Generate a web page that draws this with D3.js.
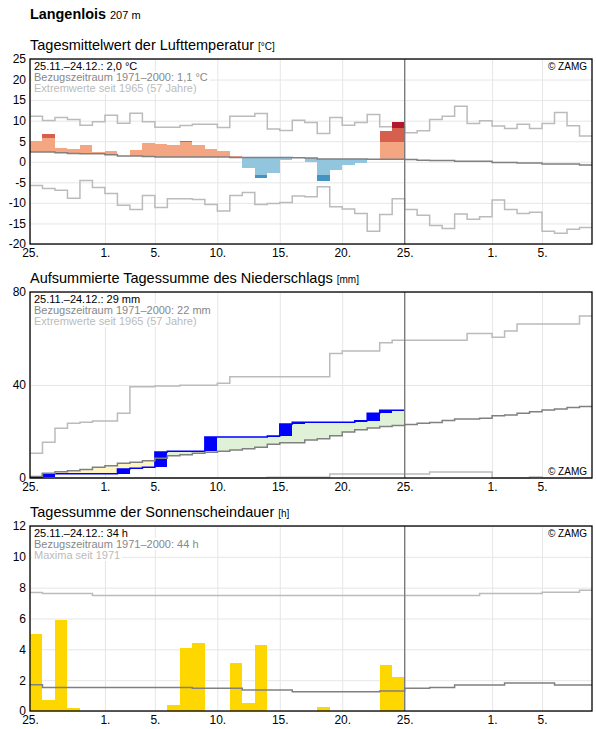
<!DOCTYPE html>
<html>
<head>
<meta charset="utf-8">
<script src="https://cdn.jsdelivr.net/npm/d3@7"></script>
<style>
body { margin: 0; background: #fff; }
svg text { font-family: "Liberation Sans", Arial, sans-serif; }
</style>
</head>
<body>
<script>
// x axis: day 0 = 25.11., 45 days shown
var xTickDays = [0, 6, 10, 15, 20, 25, 30, 37, 41];
var xTickLabels = ["25.", "1.", "5.", "10.", "15.", "20.", "25.", "1.", "5."];
var todayIndex = 30;

// Lufttemperatur
var tempTicks = [25, 20, 15, 10, 5, 0, -5, -10, -15, -20];
var tempObs = [5.1, 6.8, 3.4, 3.1, 4.05, 2.35, 2.6, 1.4, 2.85, 4.5,
               4.25, 4.05, 5.05, 4.05, 3.1, 2.6, 1.4, -1.55, -3.9, -2.7,
               0.4, 1.0, 0.0, -4.7, -2.0, -0.8, -0.25, 0.6, 7.45, 9.65];
var tempNorm = [2.4, 2.35, 2.2, 2.0, 1.95, 1.95, 1.7, 1.4, 1.4, 1.3,
                1.15, 1.15, 1.15, 1.15, 1.15, 1.15, 1.05, 1.05, 1.05, 1.05,
                1.05, 1.0, 0.9, 0.7, 0.7, 0.7, 0.7, 0.6, 0.6, 0.6,
                0.55, 0.4, 0.3, 0.3, 0.1, 0.1, 0.1, -0.15, -0.15, -0.3,
                -0.3, -0.55, -0.55, -0.55, -0.8];
var tempMax = [11.1, 10.05, 10.8, 10.3, 8.9, 9.75, 11.3, 9.35, 11.8, 9.75,
               8.4, 8.4, 8.8, 9.1, 9.1, 8.35, 11.1, 11.1, 11.75, 7.95,
               7.6, 10.1, 9.55, 6.9, 10.8, 8.9, 9.55, 11.5, 8.5, 8.5,
               7.05, 7.55, 10.3, 11.1, 13.5, 9.3, 10.0, 8.7, 8.1, 9.1,
               8.1, 9.3, 12.0, 8.75, 6.25];
var tempMin = [-5.75, -6.5, -6.9, -8.9, -4.55, -6.25, -7.7, -10.6, -11.6, -8.2,
               -11.1, -9.0, -9.0, -9.15, -10.4, -12.0, -8.2, -7.45, -10.4, -10.15,
               -9.9, -8.3, -8.5, -6.1, -10.95, -11.5, -12.6, -16.9, -12.8, -9.0,
               -11.6, -13.0, -15.5, -16.2, -12.7, -14.0, -13.4, -9.3, -11.6, -12.6,
               -12.3, -16.9, -17.4, -16.4, -16.0];
// stronger anomaly parts: [day, from, to, level]
var tempStrong = [[1, 5.8, 6.8, 1], [12, 4.8, 5.05, 1], [18, -3.25, -3.9, -1],
                  [23, -3.3, -4.7, -1], [28, 4.8, 7.45, 1], [29, 4.8, 8.2, 1], [29, 8.2, 9.65, 2]];
var tempInfo = ["25.11.–24.12.: 2,0 °C", "Bezugszeitraum 1971–2000: 1,1 °C", "Extremwerte seit 1965 (57 Jahre)"];

// Niederschlag (kumuliert)
var precTicks = [0, 40, 80];
var precObs = [0.4, 1.8, 1.8, 1.8, 1.8, 1.8, 1.8, 3.9, 4.2, 4.6,
               11.2, 11.5, 11.5, 11.5, 17.6, 17.6, 17.6, 17.6, 17.6, 18.05,
               23.2, 23.95, 23.95, 23.95, 23.95, 23.95, 24.65, 27.8, 29.1, 29.1];
var precNorm = [0.6, 2.0, 2.7, 3.1, 3.7, 4.6, 5.3, 6.3, 6.75, 7.45,
                8.5, 9.6, 10.0, 10.6, 11.05, 11.5, 12.0, 12.6, 13.2, 14.5,
                15.2, 15.2, 16.3, 16.9, 18.2, 19.8, 20.8, 21.5, 22.1, 22.6,
                23.0, 23.5, 23.9, 24.7, 25.4, 25.4, 25.7, 26.8, 27.1, 27.8,
                28.5, 29.2, 29.7, 30.3, 30.7];
var precMax = [10.6, 15.35, 21.4, 23.5, 23.95, 24.5, 24.5, 27.9, 39.3, 39.3,
               39.6, 39.6, 39.9, 39.9, 39.9, 40.7, 43.6, 43.6, 43.6, 43.6,
               43.6, 43.6, 43.6, 43.6, 53.6, 54.6, 54.6, 54.6, 58.2, 59.2,
               59.2, 59.2, 59.2, 59.2, 59.2, 62.2, 62.2, 60.5, 63.2, 66.2,
               66.2, 66.2, 66.2, 66.2, 69.7];
var precMin = [0, 0, 0, 0, 0, 0, 0, 0, 0, 0,
               0, 0, 0, 0, 0, 0, 0, 0, 0, 0.3,
               0.3, 0.3, 0.3, 0.3, 1.7, 1.7, 1.7, 1.7, 1.7, 1.7,
               1.7, 1.7, 2.6, 2.6, 2.6, 2.6, 2.6, 0, 0, 0,
               0.4, 0, 0, 0, 0];
var precInfo = ["25.11.–24.12.: 29 mm", "Bezugszeitraum 1971–2000: 22 mm", "Extremwerte seit 1965 (57 Jahre)"];

// Sonnenscheindauer
var sunTicks = [0, 2, 4, 6, 8, 10, 12];
var sunObs = [5.0, 0.7, 5.9, 0.2, 0, 0, 0, 0, 0, 0,
              0, 0.4, 4.1, 4.4, 0, 0, 3.1, 0.5, 4.25, 0,
              0, 0, 0, 0.25, 0, 0, 0, 0, 3.0, 2.2];
var sunNorm = [1.7, 1.53, 1.53, 1.53, 1.53, 1.53, 1.53, 1.53, 1.53, 1.53,
               1.53, 1.53, 1.53, 1.47, 1.47, 1.47, 1.47, 1.36, 1.36, 1.36,
               1.36, 1.25, 1.25, 1.25, 1.25, 1.25, 1.25, 1.25, 1.3, 1.3,
               1.47, 1.47, 1.53, 1.53, 1.68, 1.68, 1.68, 1.68, 1.81, 1.81,
               1.81, 1.81, 1.68, 1.68, 1.68];
var sunMax = [7.68, 7.62, 7.62, 7.62, 7.62, 7.49, 7.49, 7.49, 7.49, 7.49,
              7.49, 7.49, 7.49, 7.49, 7.49, 7.49, 7.49, 7.49, 7.49, 7.49,
              7.49, 7.49, 7.49, 7.49, 7.49, 7.49, 7.49, 7.49, 7.49, 7.49,
              7.49, 7.49, 7.49, 7.49, 7.49, 7.49, 7.62, 7.62, 7.62, 7.62,
              7.62, 7.7, 7.7, 7.7, 7.83];
var sunInfo = ["25.11.–24.12.: 34 h", "Bezugszeitraum 1971–2000: 44 h", "Maxima seit 1971"];

var plotLeft = 30, plotRight = 592;
var svg = d3.select("body").append("svg")
    .attr('width', 596)
    .attr('height', 729);

var x = d3.scaleLinear().domain([0, 45]).range([plotLeft, plotRight]);

function stepPoints(vals){
    var pts = vals.map(function(v, i){ return [i, v]; });
    pts.push([vals.length, vals[vals.length - 1]]);
    return pts;
}

function makePanel(top, height, domain, ticks, title, unit){
    var p = {top: top, height: height};
    p.y = d3.scaleLinear().domain(domain).range([top + height, top]);
    p.line = d3.line()
        .x(function(d){ return x(d[0]); })
        .y(function(d){ return p.y(d[1]); })
        .curve(d3.curveStepAfter);

    var t = svg.append("text")
        .attr('x', plotLeft)
        .attr('y', top - 9)
        .attr('font-size', 14.5)
        .attr('fill', "#000")
        .text(title);
    t.append("tspan").attr('dx', 4).attr('font-size', 10).text(unit);

    var grid = svg.append("g");
    grid.append("g")
        .attr('transform', "translate(" + plotLeft + ",0)")
        .call(d3.axisLeft(p.y).tickValues(ticks).tickFormat(String)
            .tickSize(-(plotRight - plotLeft)).tickPadding(4));
    grid.append("g")
        .attr('transform', "translate(0," + (top + height) + ")")
        .call(d3.axisBottom(x).tickValues(xTickDays)
            .tickFormat(function(d, i){ return xTickLabels[i]; })
            .tickSize(-height).tickPadding(4));
    grid.selectAll(".domain").remove();
    grid.selectAll(".tick line").attr('stroke', "#e6e6e6");
    grid.selectAll(".tick text").attr('font-size', 12).attr('fill', "#000");

    p.g = svg.append("g");
    return p;
}

function finishPanel(p, info, zamgBottom){
    p.g.append("line")
        .attr('x1', x(todayIndex)).attr('x2', x(todayIndex))
        .attr('y1', p.top).attr('y2', p.top + p.height)
        .attr('stroke', "#7a7a7a")
        .attr('stroke-width', 1.3);
    p.g.append("rect")
        .attr('x', plotLeft).attr('y', p.top)
        .attr('width', plotRight - plotLeft).attr('height', p.height)
        .attr('fill', "none")
        .attr('stroke', "#000")
        .attr('stroke-width', 1.3);

    var bg = svg.append("g"), tg = svg.append("g");
    var colors = ["#000", "#888", "#bbb"];
    info.forEach(function(s, i){
        tg.append("text")
            .attr('x', 34)
            .attr('y', p.top + 11 + i * 11)
            .attr('font-size', 11)
            .attr('fill', colors[i])
            .text(s);
    });
    tg.selectAll("text").each(function(){
        var b = this.getBBox();
        bg.append("rect")
            .attr('x', b.x - 2).attr('y', b.y)
            .attr('width', b.width + 4).attr('height', b.height)
            .attr('fill', "#fff");
    });
    tg.append("text")
        .attr('x', 587)
        .attr('y', zamgBottom ? p.top + p.height - 3 : p.top + 11)
        .attr('text-anchor', "end")
        .attr('font-size', 10)
        .attr('fill', "#000")
        .text("© ZAMG");
}

// header
var head = svg.append("text")
    .attr('x', plotLeft)
    .attr('y', 19)
    .attr('font-size', 14.4)
    .attr('font-weight', "bold")
    .text("Langenlois");
head.append("tspan").attr('dx', 4).attr('font-size', 11).attr('font-weight', "normal").text("207 m");

// ---- Temperatur
var p1 = makePanel(59, 185, [-20, 25], tempTicks, "Tagesmittelwert der Lufttemperatur", "[°C]");

[tempMax, tempMin].forEach(function(arr){
    p1.g.append("path")
        .datum(stepPoints(arr))
        .attr('d', p1.line)
        .attr('fill', "none")
        .attr('stroke', "#bbb")
        .attr('stroke-width', 1.5);
});

p1.g.selectAll("rect.tbar")
    .data(tempObs)
    .enter()
    .append("rect")
    .attr('class', "tbar")
    .attr('x', function(d, i){ return x(i); })
    .attr('width', function(d, i){ return x(i + 1) - x(i); })
    .attr('y', function(d, i){ return p1.y(Math.max(d, tempNorm[i])); })
    .attr('height', function(d, i){ return Math.abs(p1.y(d) - p1.y(tempNorm[i])); })
    .attr('fill', function(d, i){ return d >= tempNorm[i] ? "#f4a582" : "#92c5de"; })
    .attr('shape-rendering', "crispEdges");

var strongColor = {"1": "#d6604d", "2": "#b2182b", "-1": "#4393c3"};
p1.g.selectAll("rect.tstrong")
    .data(tempStrong)
    .enter()
    .append("rect")
    .attr('class', "tstrong")
    .attr('x', function(d){ return x(d[0]); })
    .attr('width', function(d){ return x(d[0] + 1) - x(d[0]); })
    .attr('y', function(d){ return p1.y(Math.max(d[1], d[2])); })
    .attr('height', function(d){ return Math.abs(p1.y(d[1]) - p1.y(d[2])); })
    .attr('fill', function(d){ return strongColor[d[3]]; })
    .attr('shape-rendering', "crispEdges");

p1.g.append("path")
    .datum(stepPoints(tempNorm))
    .attr('d', p1.line)
    .attr('fill', "none")
    .attr('stroke', "#808080")
    .attr('stroke-width', 1.5);

finishPanel(p1, tempInfo, false);

// ---- Niederschlag
var p2 = makePanel(292, 186, [0, 80], precTicks, "Aufsummierte Tagessumme des Niederschlags", "[mm]");

[precMax, precMin].forEach(function(arr){
    p2.g.append("path")
        .datum(stepPoints(arr))
        .attr('d', p2.line)
        .attr('fill', "none")
        .attr('stroke', "#bbb")
        .attr('stroke-width', 1.5);
});

p2.g.selectAll("rect.pfill")
    .data(precObs)
    .enter()
    .append("rect")
    .attr('class', "pfill")
    .attr('x', function(d, i){ return x(i); })
    .attr('width', function(d, i){ return x(i + 1) - x(i); })
    .attr('y', function(d, i){ return p2.y(Math.max(d, precNorm[i])); })
    .attr('height', function(d, i){ return Math.abs(p2.y(d) - p2.y(precNorm[i])); })
    .attr('fill', function(d, i){ return d >= precNorm[i] ? "#dff2d8" : "#fff5c2"; })
    .attr('shape-rendering', "crispEdges");

p2.g.selectAll("rect.pday")
    .data(precObs)
    .enter()
    .append("rect")
    .attr('class', "pday")
    .attr('x', function(d, i){ return x(i); })
    .attr('width', function(d, i){ return x(i + 1) - x(i); })
    .attr('y', function(d){ return p2.y(d); })
    .attr('height', function(d, i){ return p2.y(i ? precObs[i - 1] : 0) - p2.y(d); })
    .attr('fill', "#0000ff")
    .attr('shape-rendering', "crispEdges");

p2.g.append("path")
    .datum(stepPoints(precObs))
    .attr('d', p2.line)
    .attr('fill', "none")
    .attr('stroke', "#0000ff")
    .attr('stroke-width', 1.5);

p2.g.append("path")
    .datum(stepPoints(precNorm))
    .attr('d', p2.line)
    .attr('fill', "none")
    .attr('stroke', "#808080")
    .attr('stroke-width', 1.5);

finishPanel(p2, precInfo, true);

// ---- Sonnenschein
var p3 = makePanel(526, 185, [0, 12], sunTicks, "Tagessumme der Sonnenscheindauer", "[h]");

p3.g.append("path")
    .datum(stepPoints(sunMax))
    .attr('d', p3.line)
    .attr('fill', "none")
    .attr('stroke', "#bbb")
    .attr('stroke-width', 1.5);

p3.g.selectAll("rect.sbar")
    .data(sunObs)
    .enter()
    .append("rect")
    .attr('class', "sbar")
    .attr('x', function(d, i){ return x(i); })
    .attr('width', function(d, i){ return x(i + 1) - x(i); })
    .attr('y', function(d){ return p3.y(d); })
    .attr('height', function(d){ return p3.y(0) - p3.y(d); })
    .attr('fill', "#ffd700")
    .attr('shape-rendering', "crispEdges");

p3.g.append("path")
    .datum(stepPoints(sunNorm))
    .attr('d', p3.line)
    .attr('fill', "none")
    .attr('stroke', "#808080")
    .attr('stroke-width', 1.5);

finishPanel(p3, sunInfo, false);
</script>
</body>
</html>
